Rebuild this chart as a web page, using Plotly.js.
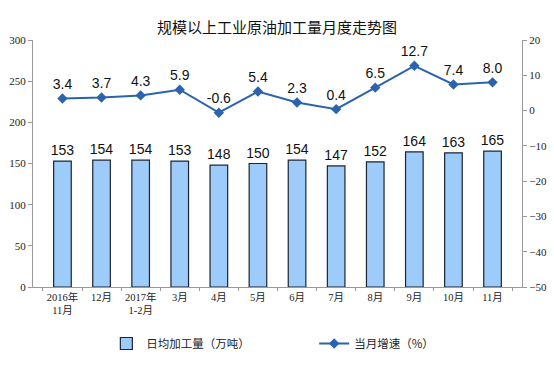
<!DOCTYPE html>
<html><head><meta charset="utf-8">
<script src="https://cdn.plot.ly/plotly-3.0.1.min.js"></script>
<style>body{margin:0;background:#fff}#c{width:554px;height:376px}</style>
</head><body><div id="c"></div>
<script>
const categories = ["2016年<br>11月","12月","2017年<br>1-2月","3月","4月","5月","6月","7月","8月","9月","10月","11月"];
const dailyOutput = [153,154,154,153,148,150,154,147,152,164,163,165];
const growthRate = [3.4,3.7,4.3,5.9,-0.6,5.4,2.3,0.4,6.5,12.7,7.4,8.0];
const leftTicks = [0,50,100,150,200,250,300];
const rightTicks = [-50,-40,-30,-20,-10,0,10,20];

const tickFont = {family:"Liberation Serif, Noto Sans CJK SC", size:11, color:"#222"};
const xTickFont = {family:"Liberation Serif, Noto Sans CJK SC", size:10.5, color:"#222"};
const legFont = {family:"Noto Sans CJK SC", size:11.5, color:"#222"};
const traces = [
  {type:"bar", name:"日均加工量（万吨）", x:categories, y:dailyOutput, legend:"legend",
   marker:{color:"#9DCBFA", line:{color:"#1c2433", width:1.2}}, width:0.45,
   text:dailyOutput.map(String), textposition:"outside", cliponaxis:false, constraintext:"none",
   textfont:{family:"Liberation Sans, Arial", size:14, color:"#111"}},
  {type:"scatter", mode:"lines+markers+text", name:"当月增速（%）", x:categories, y:growthRate, yaxis:"y2", legend:"legend2",
   line:{color:"#2B63AE", width:2}, marker:{symbol:"diamond", size:8, color:"#2B63AE"},
   text:growthRate.map(v=>v.toFixed(1)), textposition:"top center", cliponaxis:false,
   textfont:{family:"Liberation Sans, Arial", size:14, color:"#111"}}
];
const layout = {
  width:554, height:376,
  margin:{l:33, r:32, t:40, b:89, autoexpand:false},
  paper_bgcolor:"#fff", plot_bgcolor:"#fff",
  title:{text:"规模以上工业原油加工量月度走势图", x:0.5, xanchor:"center", y:0.925, yanchor:"middle",
         font:{family:"Noto Sans CJK SC", size:15, color:"#111"}},
  showlegend:true,
  legend:{orientation:"h", x:0.15, xanchor:"left", y:-0.17, yanchor:"top", font:legFont},
  legend2:{orientation:"h", x:0.575, xanchor:"left", y:-0.17, yanchor:"top", font:legFont},
  xaxis:{type:"category", tickfont:xTickFont, tickangle:0, showline:true, linecolor:"#999", ticks:"outside", ticklen:3, tickcolor:"#999", showgrid:false, tickson:"boundaries"},
  yaxis:{range:[0,300], tickvals:leftTicks, tickfont:tickFont, showline:true, linecolor:"#999", ticks:"outside", ticklen:4, tickcolor:"#999", showgrid:false, zeroline:false},
  yaxis2:{range:[-50,20], tickvals:rightTicks, overlaying:"y", side:"right", tickfont:tickFont, showline:true, linecolor:"#999", ticks:"outside", ticklen:4, tickcolor:"#999", showgrid:false, zeroline:false}
};
Plotly.newPlot("c", traces, layout, {displayModeBar:false, staticPlot:true});
</script></body></html>
